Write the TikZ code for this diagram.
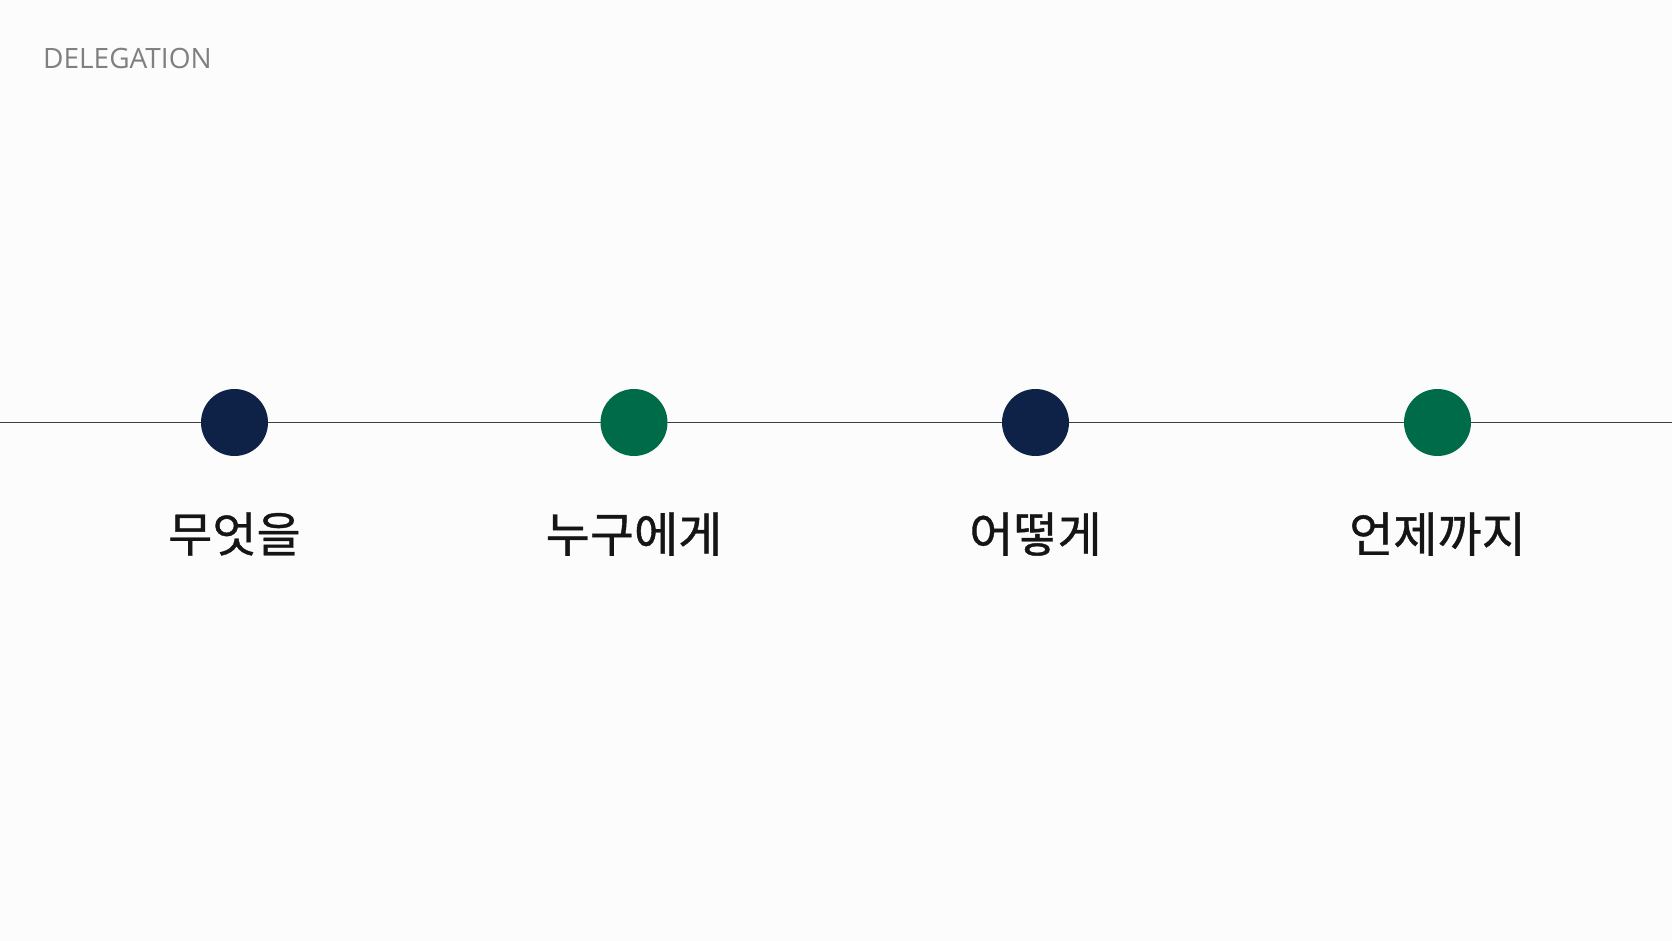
\documentclass[tikz,border=0pt]{standalone}
\usepackage{fontspec}
\setmainfont{Open Sans}
\newfontfamily\krfont[FakeBold=0.8]{Noto Sans CJK KR}
\definecolor{bgcol}{HTML}{FCFCFC}
\definecolor{navy}{HTML}{0E2146}
\definecolor{forest}{HTML}{006B48}
\definecolor{linecol}{HTML}{404040}
\definecolor{titlecol}{HTML}{808080}
\definecolor{labelcol}{HTML}{151515}
\begin{document}
\begin{tikzpicture}[x=1pt,y=-1pt,
  dot/.style={circle,inner sep=0pt,minimum size=67pt},
  steplabel/.style={anchor=base,inner sep=0pt,text=labelcol,font=\krfont\fontsize{48}{54}\selectfont}]
\fill[bgcol] (0,0) rectangle (1672,941);
\useasboundingbox (0,0) rectangle (1672,941);
\node[anchor=base west,inner sep=0pt,text=titlecol,font=\fontsize{28}{32}\selectfont] (title) at (43,69) {DELEGATION};
\coordinate (lstart) at (0,422.5);
\coordinate (lend) at (1672,422.5);
\draw[linecol,line width=1.3pt] (lstart) -- (lend);
\node[dot,fill=navy] (d1) at (234.5,422.5) {};
\node[dot,fill=forest] (d2) at (634,422.5) {};
\node[dot,fill=navy] (d3) at (1035.5,422.5) {};
\node[dot,fill=forest] (d4) at (1437.5,422.5) {};
\node[steplabel] (t1) at (234.5,552) {무엇을};
\node[steplabel] (t2) at (634,552) {누구에게};
\node[steplabel] (t3) at (1035.5,552) {어떻게};
\node[steplabel] (t4) at (1437.5,552) {언제까지};
\end{tikzpicture}
\end{document}
